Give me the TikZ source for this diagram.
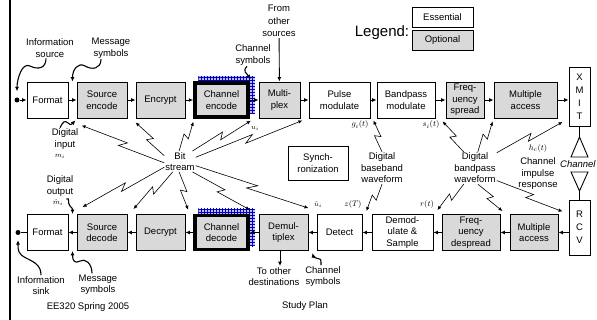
\documentclass[tikz,border=0pt]{standalone}
\usepackage{fontspec}
\setmainfont{Liberation Sans}
\usetikzlibrary{positioning,backgrounds,calc,arrows.meta,patterns}
\begin{document}
\begin{tikzpicture}[x=1pt,y=-1pt,font=\fontsize{9.5}{11.5}\selectfont]
    \tikzstyle{blk} = [draw, line width=0.9pt, minimum height=36pt, inner sep=1pt, align=center]
    \tikzstyle{optblk} = [blk, fill=black!15]
    \tikzstyle{keyblk} = [optblk, line width=3.5pt, minimum height=34pt]
    \tikzstyle{lbl} = [align=center, inner sep=1pt]
    \tikzstyle{sym} = [inner sep=0pt, font=\fontsize{8.5}{9}\selectfont]
    \tikzstyle{smlbl} = [inner sep=0pt, font=\fontsize{7}{8}\selectfont]
    \tikzstyle{endpt} = [circle, fill, inner sep=0pt, minimum size=5pt]
    \tikzstyle{hatch} = [fill=blue!25, postaction={pattern=grid, pattern color=blue!75!black}]
    \tikzstyle{ar} = [line width=0.9pt, -{Latex[length=4.5pt,width=4pt]}]
    \tikzstyle{sq} = [line width=1.1pt, -{Latex[length=4.5pt,width=4pt]}]
    \tikzstyle{zz} = [line width=0.6pt, -{Latex[length=4pt,width=3.5pt]}]
    \useasboundingbox (0,0) rectangle (597,320);
    \draw[line width=2.5pt] (10,0) -- (10,320);
    % legend
    \node[font=\fontsize{15}{17}\selectfont] (leg) at (382,33) {Legend:};
    \node[blk, minimum width=61pt, minimum height=20pt] (ess) at (442.5,17) {Essential};
    \node[optblk, minimum width=61pt, minimum height=20pt] (opt) at (442.5,40) {Optional};
    % transmitter
    \node[endpt] (src) at (17,100) {};
    \node[blk, minimum width=41pt] (fo) at (47.5,100) {Format};
    \node[optblk, minimum width=50pt] (se) at (102,100) {Source\\encode};
    \node[optblk, minimum width=49pt] (en) at (160.5,100) {Encrypt};
    \node[keyblk, minimum width=53pt] (ce) at (221.5,100) {Channel\\encode};
    \node[optblk, minimum width=41pt] (mx) at (279.5,100) {Multi-\\plex};
    \node[blk, minimum width=61pt] (pm) at (339.5,100) {Pulse\\modulate};
    \node[blk, minimum width=58pt] (bm) at (406,100) {Bandpass\\modulate};
    \node[optblk, minimum width=38pt] (fs) at (465,100) {Freq-\\uency\\spread};
    \node[optblk, minimum width=63pt] (ma) at (525.5,100) {Multiple\\access};
    \node[blk, minimum width=21pt, minimum height=59pt, font=\fontsize{9.5}{13}\selectfont] (xm) at (579.5,97) {X\\M\\I\\T};
    % receiver
    \node[endpt] (snk) at (18,232.5) {};
    \node[blk, minimum width=41pt] (fd) at (47.5,232.5) {Format};
    \node[optblk, minimum width=50pt] (sd) at (102,232.5) {Source\\decode};
    \node[optblk, minimum width=49pt] (de) at (160.5,232.5) {Decrypt};
    \node[keyblk, minimum width=53pt] (cd) at (221.5,232.5) {Channel\\decode};
    \node[optblk, minimum width=49pt] (dx) at (283.5,232.5) {Demul-\\tiplex};
    \node[blk, minimum width=45pt] (dt) at (339.5,232.5) {Detect};
    \node[blk, minimum width=61pt] (dm) at (402.5,232.5) {Demod-\\ulate \&\\Sample};
    \node[optblk, minimum width=58pt] (fp) at (471,232.5) {Freq-\\uency\\despread};
    \node[optblk, minimum width=48pt] (mb) at (534,232.5) {Multiple\\access};
    \node[blk, minimum width=21pt, minimum height=55pt, font=\fontsize{9.5}{13}\selectfont] (rc) at (579.5,227.5) {R\\C\\V};
    \node[blk, minimum width=60pt, minimum height=34pt] (syn) at (318,163) {Synch-\\ronization};
    \begin{pgfonlayer}{background}
      \path[hatch] ([shift={(5,-5)}]ce.south west) rectangle ([shift={(5,-5)}]ce.north east);
      \path[hatch] ([shift={(5,-5)}]cd.south west) rectangle ([shift={(5,-5)}]cd.north east);
    \end{pgfonlayer}
    \foreach \a/\b in {src/fo,fo/se,se/en,en/ce,ce/mx,mx/pm,pm/bm,bm/fs,fs/ma}
      \draw[ar] (\a) -- (\b);
    \draw[ar] (ma.east) -- (ma.east -| xm.west);
    \draw[ar] (rc.west |- mb.east) -- (mb.east);
    \foreach \a/\b in {mb/fp,fp/dm,dm/dt,dt/dx,dx/cd,cd/de,de/sd,sd/fd}
      \draw[ar] (\a) -- (\b);
    \draw[line width=0.9pt] (fd) -- (snk);
    % channel
    \coordinate (ta) at (579.5,137); \coordinate (tb) at (579.5,191);
    \draw[line width=0.9pt] (xm) -- (ta); \draw[line width=0.9pt] (tb) -- (rc);
    \draw[line width=0.9pt] (ta) -- ++(8.5,20) -- ++(-17,0) -- cycle;
    \draw[line width=0.9pt] (tb) -- ++(8.5,-19) -- ++(-17,0) -- cycle;
    \node[lbl, anchor=west, font=\fontsize{9.5}{11.5}\selectfont\itshape] (chn) at (559,164) {Channel};
    % labels
    \node[lbl] (isrc) at (50,48) {Information\\source};
    \node[lbl] (msg1) at (111,48) {Message\\symbols};
    \node[lbl, font=\fontsize{9.5}{12.5}\selectfont] (oth) at (279,21) {From\\other\\sources};
    \node[lbl] (csy1) at (253,55) {Channel\\symbols};
    \node[lbl] (din) at (65,139) {Digital\\input};
    \node[smlbl] (mi) at (60,156) {$m_i$};
    \node[lbl] (bit) at (180,161.5) {Bit\\stream};
    \node[lbl] (dout) at (60,186) {Digital\\output};
    \node[smlbl] (mo) at (58,203) {$\hat{m}_i$};
    \node[smlbl] (ui) at (255,128) {$u_i$};
    \node[sym] (gi) at (360,125) {$g_i(t)$};
    \node[lbl] (bb) at (382,168) {Digital\\baseband\\waveform};
    \node[sym] (zt) at (353,205) {$z(T)$};
    \node[smlbl] (uh) at (318,205) {$\hat{u}_i$};
    \node[sym] (si) at (431,125) {$s_i(t)$};
    \node[lbl] (bp) at (475,168) {Digital\\bandpass\\waveform};
    \node[sym] (rt) at (427,205) {$r(t)$};
    \node[sym] (hc) at (538,149) {$h_c(t)$};
    \node[lbl] (cir) at (538,174) {Channel\\impulse\\response};
    \node[lbl] (isnk) at (41,285.5) {Information\\sink};
    \node[lbl] (msg2) at (98,284.5) {Message\\symbols};
    \node[lbl] (dst) at (274,276.5) {To other\\destinations};
    \node[lbl] (csy2) at (323,276.5) {Channel\\symbols};
    \node[lbl] (ee) at (88,307) {EE320 Spring 2005};
    \node[lbl] (sp) at (305,306) {Study Plan};
    % squiggles
    \coordinate (gtop) at ($(fo.north east)!0.5!(se.north west)$);
    \coordinate (gbot) at ($(fo.south east)!0.5!(se.south west)$);
    \coordinate (gmid) at ($(fd.north east)!0.5!(sd.north west)$);
    \coordinate (gmb) at ($(fd.south east)!0.5!(sd.south west)$);
    \coordinate (dxo) at ([xshift=-3.5pt]dx.south);
    \draw[ar] (oth) -- (mx);
    \draw[ar] (dxo) -- (dxo |- dst.north);
    \draw[sq] ([xshift=-4pt]isrc.south) .. controls +(0,10) and +(8,4) .. (30,66) .. controls +(-8,-4) and +(0,-12) .. ([yshift=6pt]src.north);
    \draw[sq] ([xshift=-10pt]msg1.south) .. controls +(0,10) and +(7,4) .. (85,66) .. controls +(-7,-4) and +(0,-12) .. (gtop);
    \draw[sq] ([xshift=-6pt]csy1.south) .. controls +(-5,5) and +(-4,-6) .. ([shift={(1,-2)}]ce.north east);
    \draw[sq] ([xshift=-5pt]din.north) .. controls +(3,-6) and +(-3,-3) .. (68,123) .. controls +(3,3) and +(-3,3) .. ([shift={(3,2)}]gbot);
    \draw[sq] ([shift={(3,-4)}]mo.east) .. controls +(4,-2) and +(-3,-3) .. (70,206) .. controls +(3,3) and +(0,-5) .. (gmid);
    \draw[sq] ([xshift=-6pt]msg2.north) .. controls +(0,-10) and +(5,-3) .. (80,261) .. controls +(-5,3) and +(0,10) .. (gmb);
    \draw[sq] (isnk.north) .. controls +(0,-10) and +(8,4) .. (26,258) .. controls +(-8,-4) and +(0,10) .. ([yshift=-5pt]snk.south);
    \draw[sq] ([xshift=-2pt]csy2.north) .. controls +(0,-8) and +(5,2) .. (316,258) .. controls +(-3,-1) and +(1,4) .. ([shift={(4,2)}]dx.south east);
    % zigzag pointers
    \coordinate (b1) at ([shift={(5,7)}]se.south west);
    \coordinate (b2) at ([shift={(0,4)}]en.south west);
    \coordinate (b3) at ([shift={(0,3)}]ce.south west);
    \coordinate (b4) at ([shift={(1,2)}]ce.south east);
    \coordinate (b5) at ([shift={(2,2)}]mx.south east);
    \coordinate (b6) at ([shift={(6,-7)}]sd.north west);
    \coordinate (b7) at ([shift={(-2,-5)}]de.north west);
    \coordinate (b8) at ([shift={(-5,-4)}]cd.north west);
    \coordinate (b9) at ([shift={(0,-4)}]cd.north east);
    \coordinate (b10) at ([shift={(0,-6)}]dx.north east);
    \coordinate (g1) at ([shift={(3,2)}]pm.south east);
    \coordinate (g2) at ([shift={(4,-3)}]dt.north east);
    \coordinate (p1) at ([shift={(-3,3)}]fs.south west);
    \coordinate (p2) at ([shift={(-1,3)}]ma.south west);
    \coordinate (p3) at ([shift={(-6,-5)}]xm.south west);
    \coordinate (p4) at ([shift={(4,-4)}]dm.north east);
    \coordinate (p5) at ([shift={(2,-3)}]fp.north east);
    \coordinate (p6) at ([shift={(-6,12)}]rc.north west);
    \foreach \s/\t in {bit.185/b1,bit.160/b2,bit.95/b3,bit.40/b4,bit.15/b5,bit.200/b6,bit.235/b7,bit.265/b8,bit.320/b9,bit.345/b10,bb.north/g1,bb.south/g2,bp.125/p1,bp.80/p2,bp.35/p3,bp.235/p4,bp.280/p5,bp.330/p6}
      \draw[zz] (\s) -- ($(\s)!0.54!(\t)!3pt!90:(\t)$) -- ($(\s)!0.46!(\t)!3pt!-90:(\t)$) -- (\t);
\end{tikzpicture}
\end{document}
